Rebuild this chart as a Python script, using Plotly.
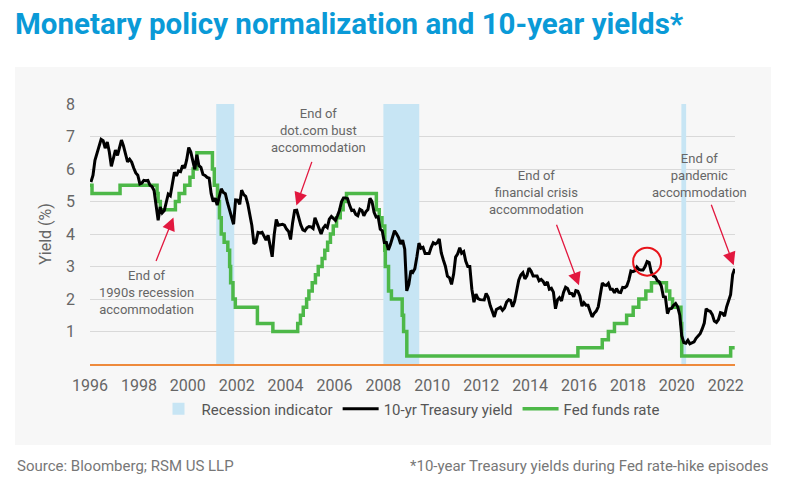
import pandas as pd
import plotly.graph_objects as go

# ---------------- data ----------------
# 10-year Treasury yield, monthly (Jan 1996 - May 2022), %
y10_1996_2001 = [
    5.60, 5.81, 6.27, 6.51, 6.74, 6.91, 6.87, 6.64, 6.83, 6.53, 6.08, 6.30,
    6.58, 6.42, 6.69, 6.89, 6.71, 6.49, 6.22, 6.30, 6.21, 6.03, 5.88, 5.81,
    5.54, 5.57, 5.65, 5.64, 5.65, 5.50, 5.46, 5.34, 4.81, 4.42, 4.83, 4.65,
    4.72, 5.00, 5.23, 5.18, 5.54, 5.90, 5.79, 5.94, 5.92, 6.11, 6.03, 6.28,
    6.66, 6.52, 6.26, 5.99, 6.44, 6.10, 6.05, 5.83, 5.80, 5.74, 5.72, 5.24,
    5.00, 5.10, 4.89, 5.14, 5.39, 5.28, 5.24, 4.97, 4.73, 4.55, 4.30, 5.05,
]
y10_2002_2007 = [
    5.04, 4.91, 5.35, 5.21, 5.16, 4.93, 4.65, 4.26, 3.70, 3.75, 4.05, 4.03,
    4.05, 3.90, 3.81, 3.96, 3.57, 3.30, 3.98, 4.45, 4.27, 4.29, 4.30, 4.27,
    4.15, 4.08, 3.83, 4.35, 4.72, 4.73, 4.50, 4.28, 4.13, 4.10, 4.19, 4.23,
    4.22, 4.17, 4.50, 4.34, 4.14, 4.00, 4.18, 4.26, 4.20, 4.46, 4.54, 4.47,
    4.42, 4.57, 4.72, 4.99, 5.11, 5.11, 5.09, 4.88, 4.72, 4.73, 4.60, 4.56,
    4.76, 4.72, 4.56, 4.69, 4.75, 5.10, 5.00, 4.67, 4.52, 4.53, 4.15, 4.10,
]
y10_2008_2013 = [
    3.74, 3.74, 3.51, 3.68, 3.88, 4.10, 4.01, 3.89, 3.69, 3.81, 3.53, 2.25,
    2.45, 2.87, 2.82, 2.93, 3.29, 3.72, 3.56, 3.59, 3.40, 3.39, 3.40, 3.59,
    3.73, 3.69, 3.73, 3.85, 3.42, 3.20, 3.01, 2.70, 2.65, 2.45, 2.76, 3.29,
    3.39, 3.58, 3.41, 3.46, 3.17, 3.00, 3.00, 2.30, 1.90, 2.15, 2.01, 1.98,
    1.97, 1.97, 2.17, 2.05, 1.80, 1.62, 1.45, 1.68, 1.72, 1.75, 1.65, 1.72,
    1.91, 1.98, 1.96, 1.76, 1.93, 2.30, 2.58, 2.74, 2.81, 2.62, 2.72, 2.95,
]
y10_2014_2022 = [
    2.86, 2.71, 2.72, 2.71, 2.56, 2.60, 2.54, 2.42, 2.53, 2.30, 2.33, 2.21,
    1.70, 1.98, 2.04, 1.94, 2.20, 2.36, 2.32, 2.17, 2.17, 2.07, 2.26, 2.24,
    2.09, 1.78, 1.89, 1.81, 1.81, 1.64, 1.45, 1.56, 1.63, 1.76, 2.14, 2.49,
    2.43, 2.42, 2.48, 2.30, 2.30, 2.19, 2.32, 2.21, 2.20, 2.36, 2.35, 2.40,
    2.58, 2.86, 2.84, 2.87, 2.98, 2.91, 2.89, 2.89, 3.00, 3.15, 3.12, 2.83,
    2.71, 2.68, 2.57, 2.53, 2.40, 2.07, 2.06, 1.55, 1.70, 1.71, 1.81, 1.86,
    1.76, 1.50, 0.87, 0.66, 0.64, 0.73, 0.62, 0.65, 0.68, 0.79, 0.87, 0.93,
    1.08, 1.26, 1.70, 1.64, 1.62, 1.52, 1.32, 1.28, 1.37, 1.58, 1.56, 1.47,
    1.76, 1.93, 2.13, 2.75, 2.93,
]
y10_values = y10_1996_2001 + y10_2002_2007 + y10_2008_2013 + y10_2014_2022
y10_dates = pd.date_range("1996-01-01", periods=len(y10_values), freq="MS") + pd.Timedelta(days=14)

# Fed funds target rate (upper bound), change dates and levels, %
ff_dates = [
    "1996-01-01", "1996-01-31", "1997-03-25", "1998-09-29", "1998-10-15", "1998-11-17",
    "1999-06-30", "1999-08-24", "1999-11-16", "2000-02-02", "2000-03-21", "2000-05-16",
    "2001-01-03", "2001-01-31", "2001-03-20", "2001-04-18", "2001-05-15", "2001-06-27",
    "2001-08-21", "2001-09-17", "2001-10-02", "2001-11-06", "2001-12-11", "2002-11-06",
    "2003-06-25", "2004-06-30", "2004-08-10", "2004-09-21", "2004-11-10", "2004-12-14",
    "2005-02-02", "2005-03-22", "2005-05-03", "2005-06-30", "2005-08-09", "2005-09-20",
    "2005-11-01", "2005-12-13", "2006-01-31", "2006-03-28", "2006-05-10", "2006-06-29",
    "2007-09-18", "2007-10-31", "2007-12-11", "2008-01-22", "2008-01-30", "2008-03-18",
    "2008-04-30", "2008-10-08", "2008-10-29", "2008-12-16", "2015-12-16", "2016-12-14",
    "2017-03-15", "2017-06-14", "2017-12-13", "2018-03-21", "2018-06-13", "2018-09-26",
    "2018-12-19", "2019-07-31", "2019-09-18", "2019-10-30", "2020-03-03", "2020-03-15",
    "2022-03-16", "2022-05-15",
]
ff_values = [
    5.50, 5.25, 5.50, 5.25, 5.00, 4.75,
    5.00, 5.25, 5.50, 5.75, 6.00, 6.50,
    6.00, 5.50, 5.00, 4.50, 4.00, 3.75,
    3.50, 3.00, 2.50, 2.00, 1.75, 1.25,
    1.00, 1.25, 1.50, 1.75, 2.00, 2.25,
    2.50, 2.75, 3.00, 3.25, 3.50, 3.75,
    4.00, 4.25, 4.50, 4.75, 5.00, 5.25,
    4.75, 4.50, 4.25, 3.50, 3.00, 2.25,
    2.00, 1.50, 1.00, 0.25, 0.50, 0.75,
    1.00, 1.25, 1.50, 1.75, 2.00, 2.25,
    2.50, 2.25, 2.00, 1.75, 1.25, 0.25,
    0.50, 0.50,
]

# Recession periods
rec_start = ["2001-03-01", "2008-01-01", "2020-03-10"]
rec_end = ["2001-11-25", "2009-06-20", "2020-05-20"]
rec_top = [8, 8, 8]

y_ticks = [1, 2, 3, 4, 5, 6, 7, 8]

# ---------------- figure ----------------
FONT = "Roboto"
GRAY = "#666666"

rs = pd.to_datetime(rec_start)
re_ = pd.to_datetime(rec_end)
rec_mid = rs + (re_ - rs) / 2
rec_width = [(e - s).total_seconds() * 1000 for s, e in zip(rs, re_)]

fig = go.Figure()
fig.add_trace(go.Bar(
    x=rec_mid, y=rec_top, width=rec_width, base=0,
    marker=dict(color="#c7e5f4", line=dict(width=0)),
    name="Recession indicator", legendrank=1, hoverinfo="skip",
))
fig.add_trace(go.Scatter(
    x=pd.to_datetime(ff_dates), y=ff_values, mode="lines",
    line=dict(color="#4db848", width=3.5, shape="hv"),
    name="Fed funds rate", legendrank=3,
))
fig.add_trace(go.Scatter(
    x=y10_dates, y=y10_values, mode="lines",
    line=dict(color="#000000", width=3),
    name="10-yr Treasury yield", legendrank=2,
))

# plot-area geometry (pixels) used for paper coords
L, R, T, B = 90, 51, 104, 126
W, H = 786 - L - R, 490 - T - B


def px_x(p):
    return (p - L) / W


def px_y(p):
    return (490 - B - p) / H


# background panel
fig.add_shape(type="rect", xref="paper", yref="paper",
              x0=px_x(15), x1=px_x(771), y0=px_y(445), y1=px_y(67),
              fillcolor="#f7f7f7", line=dict(width=0), layer="below")

# red circle around 2018 yield peak
y10_series = pd.Series(y10_values, index=y10_dates)
peak_date = y10_series["2017":"2019"].idxmax()
peak_val = y10_series["2017":"2019"].max()
fig.add_shape(type="circle", xref="x", yref="y",
              xsizemode="pixel", ysizemode="pixel",
              xanchor=peak_date, yanchor=peak_val,
              x0=-14, x1=14, y0=-14, y1=14,
              line=dict(color="#e8141b", width=2), fillcolor="rgba(0,0,0,0)")

ARROW = "#e2183f"
notes = [
    # text center (date, y), arrow head (date, y), tail offset px
    ("End of<br>1990s recession<br>accommodation", "1998-05-01", 2.19, "1999-06-01", 4.51, -18, 45),
    ("End of<br>dot.com bust<br>accommodation", "2005-05-10", 7.18, "2004-06-10", 4.88, 16, -45),
    ("End of<br>financial crisis<br>accommodation", "2014-04-05", 5.29, "2016-01-01", 2.42, -23, -62),
    ("End of<br>pandemic<br>accommodation", "2020-12-01", 5.80, "2022-05-01", 3.04, -23, -62),
]
for txt, tx, ty, hx, hy, ax, ay in notes:
    fig.add_annotation(x=tx, y=ty, xref="x", yref="y", text=txt, showarrow=False,
                       font=dict(family=FONT, size=13, color=GRAY), align="center")
    fig.add_annotation(x=hx, y=hy, xref="x", yref="y", text="", showarrow=True,
                       ax=ax, ay=ay, arrowcolor=ARROW, arrowwidth=1.3,
                       arrowhead=2, arrowsize=2.0)

# footers
fig.add_annotation(x=px_x(15), y=px_y(466), xref="paper", yref="paper", xanchor="left",
                   yanchor="middle", text="Source: Bloomberg; RSM US LLP", showarrow=False,
                   font=dict(family=FONT, size=15, color="#777777"))
fig.add_annotation(x=px_x(771), y=px_y(466), xref="paper", yref="paper", xanchor="right",
                   yanchor="middle", text="*10-year Treasury yields during Fed rate-hike episodes",
                   showarrow=False, font=dict(family=FONT, size=15, color="#777777"))

fig.update_layout(
    width=786, height=490,
    margin=dict(l=L, r=R, t=T, b=B, pad=0),
    paper_bgcolor="white", plot_bgcolor="rgba(0,0,0,0)",
    font=dict(family=FONT, color=GRAY),
    title=dict(text="<b>Monetary policy normalization and 10-year yields*</b>",
               xref="container", yref="container", x=15 / 786, xanchor="left",
               y=1 - 24 / 490, yanchor="middle",
               font=dict(family=FONT, size=29.5, color="#0a9ad7")),
    showlegend=True,
    legend=dict(orientation="h", xanchor="center", x=px_x(410), yanchor="middle", y=px_y(409),
                font=dict(family=FONT, size=15, color="#555555"), bgcolor="rgba(0,0,0,0)",
                traceorder="normal", itemwidth=36),
    barmode="overlay",
    hovermode=False,
)
fig.update_xaxes(
    type="date", range=["1996-01-01", "2022-05-20"],
    tick0="1996-01-01", dtick="M24", tickformat="%Y",
    showgrid=False, zeroline=False, showline=True, linecolor="#ee8a3c", linewidth=1.5,
    ticks="", ticklabelstandoff=6, tickfont=dict(family=FONT, size=16, color=GRAY),
)
fig.update_yaxes(
    range=[0, 8], tickvals=y_ticks, showgrid=True, gridcolor="#d9d9d9", gridwidth=1,
    zeroline=False, showline=False, ticks="", ticklabelstandoff=14,
    tickfont=dict(family=FONT, size=16, color=GRAY),
    title=dict(text="Yield (%)", standoff=10, font=dict(family=FONT, size=16, color=GRAY)),
)

# remove the default page margin so the figure sits at the window origin
fig.write_html("out.html", config={"displayModeBar": False},
               post_script="document.body.style.margin='0';")
